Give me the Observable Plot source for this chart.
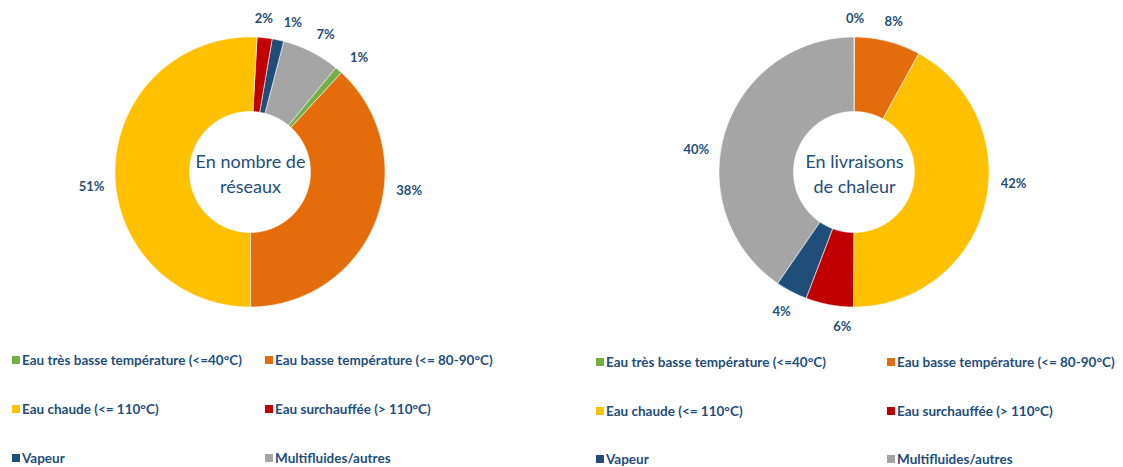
<!DOCTYPE html>
<html><head><meta charset="utf-8">
<script src="https://cdn.jsdelivr.net/npm/d3@7"></script>
<script src="https://cdn.jsdelivr.net/npm/@observablehq/plot@0.6"></script>
<style>
body{margin:0;background:#fff;font-family:Lato,"Open Sans",sans-serif;}
#wrap{position:relative;width:1123px;height:467px;overflow:hidden;background:#fff}
.chart{position:absolute;top:0}
.legend{position:absolute;display:grid;font-weight:700;font-size:13.5px;color:#1F4E79;white-space:nowrap}
.legend div{display:flex;align-items:center;height:16px}
.legend i{display:inline-block;width:8px;height:8px;margin-right:2px;flex:none}
</style></head><body><div id="wrap"></div>
<script>
const categories = ["Eau très basse température (<=40°C)", "Eau basse température (<= 80-90°C)", "Eau chaude (<= 110°C)", "Eau surchauffée (> 110°C)", "Vapeur", "Multifluides/autres"];
const colors = ["#72B043", "#E46C0A", "#FFC000", "#C00000", "#1F4E79", "#A5A5A5"];
const reseauxShares = [0.9, 38.1, 50.9, 1.8, 1.4, 6.9];
const livraisonsShares = [0.1, 7.9, 42.1, 5.7, 3.8, 40.4];
const reseauxLabels = ["1%", "38%", "51%", "2%", "1%", "7%"];
const livraisonsLabels = ["0%", "8%", "42%", "6%", "4%", "40%"];
const centerTitles = ["En nombre de\nréseaux", "En livraisons\nde chaleur"];

// label placement tweaks (degrees), layout only
const reseauxLabelShift = [2.4, -14.7, -6.6, -1.4, 3.6, 1.5];
const livraisonsLabelShift = [0, 0, -10.6, -6.1, 0, -9];

const wrap = document.getElementById("wrap");
const W = 500, H = 340, CY = 172;
const R = 135, R0 = 60.5, RB = 147;
const textColor = "#1F4E79";

function donut(values, labels, shifts, title, startDeg, left) {
  const a0 = startDeg * Math.PI / 180;
  const arcs = d3.pie().sort(null).value(d => d).startAngle(a0).endAngle(a0 + 2 * Math.PI)(values);
  const rows = [];
  const labs = [];
  arcs.forEach((a, i) => {
    const n = Math.max(2, Math.ceil((a.endAngle - a.startAngle) / (Math.PI / 360)));
    for (let k = 0; k <= n; k++) {
      const t = a.startAngle + (a.endAngle - a.startAngle) * k / n;
      rows.push({cat: categories[i], xo: R * Math.sin(t), yo: R * Math.cos(t), xi: R0 * Math.sin(t), yi: R0 * Math.cos(t)});
    }
    const m = (a.startAngle + a.endAngle) / 2 + shifts[i] * Math.PI / 180;
    const halfW = labels[i].length * 4;
    const r = RB + Math.abs(Math.sin(m)) * halfW + Math.abs(Math.cos(m)) * 7;
    labs.push({text: labels[i], x: r * Math.sin(m), y: r * Math.cos(m)});
  });
  const svg = Plot.plot({
    width: W, height: H,
    margin: 0,
    x: {domain: [-W / 2, W / 2], axis: null},
    y: {domain: [CY - H, CY], axis: null},
    color: {domain: categories, range: colors},
    style: {fontFamily: "Lato, 'Open Sans', sans-serif", background: "transparent"},
    marks: [
      Plot.area(rows, {x1: "xo", y1: "yo", x2: "xi", y2: "yi", z: "cat", fill: "cat", stroke: "white", strokeWidth: 0.6}),
      Plot.text(labs, {x: "x", y: "y", text: "text", fill: textColor, fontWeight: "bold", fontSize: 13}),
      Plot.text([title], {x: () => 0, y: () => 0, text: d => d, fill: textColor, fontSize: 18, lineHeight: 1.38})
    ]
  });
  svg.classList.add("chart");
  svg.style.left = left + "px";
  wrap.appendChild(svg);
}

function legend(left, top, colW, rowH) {
  const div = document.createElement("div");
  div.className = "legend";
  div.style.left = left + "px";
  div.style.top = top + "px";
  div.style.gridTemplateColumns = `${colW}px ${colW}px`;
  div.style.rowGap = (rowH - 16) + "px";
  categories.forEach((c, i) => {
    const item = document.createElement("div");
    item.innerHTML = `<i style="background:${colors[i]}"></i><span></span>`;
    item.querySelector("span").textContent = c;
    div.appendChild(item);
  });
  wrap.appendChild(div);
}

donut(reseauxShares, reseauxLabels, reseauxLabelShift, centerTitles[0], 39.5, 0);
donut(livraisonsShares, livraisonsLabels, livraisonsLabelShift, centerTitles[1], 0, 604);
legend(12, 352, 253, 49);
legend(596, 354, 291, 48.5);
</script></body></html>
